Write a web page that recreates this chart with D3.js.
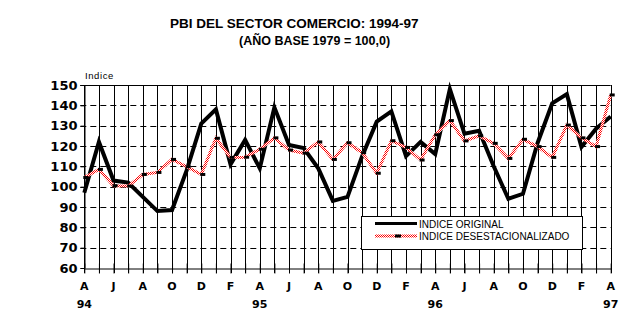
<!DOCTYPE html>
<html><head><meta charset="utf-8">
<script src="https://cdn.jsdelivr.net/npm/d3@7"></script>
<style>body{margin:0;background:#fff}svg{display:block}</style>
</head><body><svg id="c" width="642" height="333" font-family="Liberation Sans, Arial, sans-serif"></svg>
<script>
const months = ["Abr-94","May-94","Jun-94","Jul-94","Ago-94","Sep-94","Oct-94","Nov-94","Dic-94","Ene-95","Feb-95","Mar-95","Abr-95","May-95","Jun-95","Jul-95","Ago-95","Sep-95","Oct-95","Nov-95","Dic-95","Ene-96","Feb-96","Mar-96","Abr-96","May-96","Jun-96","Jul-96","Ago-96","Sep-96","Oct-96","Nov-96","Dic-96","Ene-97","Feb-97","Mar-97","Abr-97"];
const original = [97,122,103,102,95,88,88.5,108,131,138,111,123,109,139,120.5,119,109,93,95,115,132,137,115,122,116,148,126,127.5,110,94,96.5,121.5,141,145.5,119.5,128.5,134.5];
const desest = [104.5,108.5,100.5,100.3,106,107,113.4,109.8,106,123.8,114.4,114.5,118.4,124,118,116.5,122,113.4,121.6,116.7,106.6,122.6,119.3,113.1,125.5,132.5,122.5,125,121.3,113.9,123.3,119.7,114.4,130.3,124,119.7,145.1];
const monthTicks = ["A","","J","","A","","O","","D","","F","","A","","J","","A","","O","","D","","F","","A","","J","","A","","O","","D","","F","","A"];
const yearTicks = ["94","","","","","","","","","","","","95","","","","","","","","","","","","96","","","","","","","","","","","","97"];
const yTicks = [60,70,80,90,100,110,120,130,140,150];
const seriesNames = ["INDICE ORIGINAL","INDICE DESESTACIONALIZADO"];
const title = "PBI DEL SECTOR COMERCIO: 1994-97";
const subtitle = "(AÑO BASE 1979 = 100,0)";

const svg = d3.select("#c");
const L=84.3, R=610.7, T=85, B=268;
const x = d3.scalePoint().domain(months).range([L,R]);
const y = d3.scaleLinear().domain([60,150]).range([B,T]);

const defs = svg.append("defs");
const pat = defs.append("pattern").attr("id","chk").attr("patternUnits","userSpaceOnUse").attr("width",2).attr("height",2);
pat.append("rect").attr("width",2).attr("height",2).attr("fill","#fff");
pat.append("rect").attr("x",0).attr("y",0).attr("width",1).attr("height",1).attr("fill","#ff0000");
pat.append("rect").attr("x",1).attr("y",1).attr("width",1).attr("height",1).attr("fill","#ff0000");

svg.append("text").attr("x",170).attr("y",27.5).attr("font-size",13.5).attr("font-weight","bold").text(title);
svg.append("text").attr("x",239).attr("y",45).attr("font-size",12.5).attr("font-weight","bold").text(subtitle);
svg.append("text").attr("x",85).attr("y",79).attr("font-size",9.5).attr("letter-spacing",0.6).text("Indice");

// horizontal dashed grid
svg.append("g").selectAll("line").data(yTicks.filter(v=>v>60&&v<150)).join("line")
  .attr("x1",L-4).attr("x2",R).attr("y1",d=>Math.round(y(d))+0.5).attr("y2",d=>Math.round(y(d))+0.5)
  .attr("stroke","#000").attr("stroke-dasharray","6,4");
svg.append("line").attr("x1",L-4).attr("x2",R).attr("y1",T+0.5).attr("y2",T+0.5).attr("stroke","#000");
// vertical grid
svg.append("g").selectAll("line").data(months).join("line")
  .attr("x1",d=>Math.round(x(d))+0.5).attr("x2",d=>Math.round(x(d))+0.5).attr("y1",T).attr("y2",B+5)
  .attr("stroke","#000");

// y axis
const ya = svg.append("g").attr("transform",`translate(${Math.round(L)+0.5},0)`)
  .call(d3.axisLeft(y).tickValues(yTicks).tickSize(4).tickPadding(3));
ya.select(".domain").attr("stroke","#000");
ya.selectAll("text").attr("font-size",13).attr("font-weight","bold").attr("font-family","DejaVu Sans, sans-serif").attr("fill","#000");
// x axis
const xa = svg.append("g").attr("transform",`translate(0,${Math.round(B)+0.5})`)
  .call(d3.axisBottom(x).tickSize(5).tickSizeOuter(0).tickFormat(""));
xa.select(".domain").attr("stroke","#000");
xa.selectAll("line").attr("y1",-5);
const lab = svg.append("g").attr("font-size",11).attr("font-weight","bold").attr("font-family","DejaVu Sans, sans-serif").attr("text-anchor","middle");
months.forEach((m,i)=>{
  if (monthTicks[i]) lab.append("text").attr("x",x(m)).attr("y",289.5).text(monthTicks[i]);
  if (yearTicks[i]) lab.append("text").attr("x",x(m)).attr("y",308).text(yearTicks[i]);
});

const line = d3.line().x((d,i)=>x(months[i])).y(d=>y(d));
svg.append("path").datum(original).attr("d",line).attr("fill","none").attr("stroke","#000").attr("stroke-width",4).attr("stroke-linejoin","miter");
svg.append("path").datum(desest).attr("d",line).attr("fill","none").attr("stroke","url(#chk)").attr("stroke-width",3);
svg.append("g").selectAll("rect").data(desest).join("rect")
  .attr("x",(d,i)=>x(months[i])-1).attr("y",d=>y(d)-1.5).attr("width",5).attr("height",3).attr("fill","#000");

// legend
const lg = svg.append("g");
lg.append("rect").attr("x",361.5).attr("y",216.5).attr("width",221).attr("height",33).attr("fill","#fff").attr("stroke","#000");
lg.append("line").attr("x1",375).attr("x2",417).attr("y1",223.5).attr("y2",223.5).attr("stroke","#000").attr("stroke-width",3);
lg.append("line").attr("x1",375).attr("x2",417).attr("y1",236).attr("y2",236).attr("stroke","url(#chk)").attr("stroke-width",3);
lg.append("rect").attr("x",395).attr("y",234.5).attr("width",6).attr("height",3).attr("fill","#000");
lg.selectAll("text.l").data(seriesNames).join("text").attr("class","l")
  .attr("x",419).attr("y",(d,i)=>227.5+i*12.7).attr("font-size",10).text(d=>d);
</script></body></html>
